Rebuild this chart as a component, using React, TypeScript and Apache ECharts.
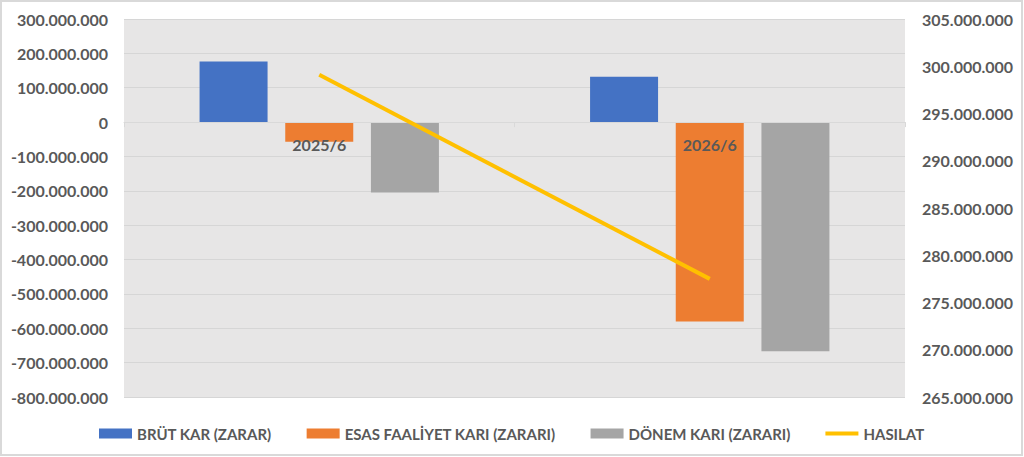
import { useEffect, useRef } from 'react';
import * as echarts from 'echarts';

// values
const periods = ['2025/6', '2026/6'];
const brutKar = [176000000, 132000000];
const esasFaaliyet = [-57000000, -580000000];
const donemKari = [-205000000, -667000000];
const hasilat = [299100000, 277500000];

const LABEL = '#595959';
const FONT = 'Lato, "Liberation Sans", sans-serif';

const LEFT_MIN = -800000000;
const LEFT_MAX = 300000000;
const GRID_TOP = 19;
const GRID_BOTTOM = 60;
const HEIGHT = 457;

const dots = (v: number) => String(v).replace(/\B(?=(\d{3})+(?!\d))/g, '.');

export default function App() {
  const ref = useRef<HTMLDivElement>(null);

  useEffect(() => {
    const dom = ref.current!;
    const chart = echarts.init(dom, undefined, { renderer: 'svg' });

    // category axis sits on the zero line of the left axis
    const plotH = HEIGHT - GRID_TOP - GRID_BOTTOM;
    const zeroOffset = -(plotH * -LEFT_MIN) / (LEFT_MAX - LEFT_MIN);

    const bar = (name: string, data: number[], color: string) => ({
      type: 'bar',
      name,
      data,
      barWidth: 68,
      barGap: '26%',
      itemStyle: { color },
    });

    chart.setOption({
      animation: false,
      backgroundColor: '#fff',
      textStyle: { fontFamily: FONT },
      grid: {
        left: 124,
        right: 119,
        top: GRID_TOP,
        bottom: GRID_BOTTOM,
        show: true,
        backgroundColor: '#E7E6E6',
        borderWidth: 0,
      },
      graphic: [
        {
          type: 'rect',
          shape: { x: 1, y: 1, width: 1021, height: 454 },
          style: { fill: 'none', stroke: '#D9D9D9', lineWidth: 2 },
          silent: true,
        },
      ],
      legend: {
        left: 99,
        top: 426,
        padding: 0,
        itemWidth: 33,
        itemHeight: 10,
        itemGap: 35,
        textStyle: { color: LABEL, fontSize: 15, fontWeight: 'bold', fontFamily: FONT },
        data: [
          { name: 'BRÜT KAR (ZARAR)', icon: 'rect' },
          { name: 'ESAS FAALİYET KARI (ZARARI)', icon: 'rect' },
          { name: 'DÖNEM KARI (ZARARI)', icon: 'rect' },
          { name: 'HASILAT', icon: 'path://M0,0 L33,0 L33,4 L0,4 Z' },
        ],
      },
      xAxis: {
        type: 'category',
        data: periods,
        z: 5,
        offset: zeroOffset,
        axisLine: { onZero: false, lineStyle: { color: '#D9D9D9', width: 1 } },
        axisTick: { show: true, length: 5, lineStyle: { color: '#D9D9D9' } },
        axisLabel: { color: LABEL, fontSize: 16, fontWeight: 'bold', margin: 14, fontFamily: FONT },
      },
      yAxis: [
        {
          type: 'value',
          min: LEFT_MIN,
          max: LEFT_MAX,
          interval: 100000000,
          axisLine: { show: false },
          axisTick: { show: false },
          splitLine: { lineStyle: { color: '#D6D6D6', width: 1 } },
          axisLabel: {
            color: LABEL,
            fontSize: 16,
            fontWeight: 'bold',
            margin: 16,
            fontFamily: FONT,
            formatter: dots,
          },
        },
        {
          type: 'value',
          min: 265000000,
          max: 305000000,
          interval: 5000000,
          axisLine: { show: false },
          axisTick: { show: false },
          splitLine: { show: false },
          axisLabel: {
            color: LABEL,
            fontSize: 16,
            fontWeight: 'bold',
            margin: 17,
            fontFamily: FONT,
            formatter: dots,
          },
        },
      ],
      series: [
        bar('BRÜT KAR (ZARAR)', brutKar, '#4472C4'),
        bar('ESAS FAALİYET KARI (ZARARI)', esasFaaliyet, '#ED7D31'),
        bar('DÖNEM KARI (ZARARI)', donemKari, '#A5A5A5'),
        {
          type: 'line',
          name: 'HASILAT',
          yAxisIndex: 1,
          data: hasilat,
          symbol: 'none',
          z: 6,
          itemStyle: { color: '#FFC000' },
          lineStyle: { color: '#FFC000', width: 4 },
        },
      ],
    } as echarts.EChartsOption);

    return () => {
      chart.dispose();
    };
  }, []);

  return (
    <div
      ref={ref}
      style={{ position: 'fixed', left: 0, top: 0, width: 1024, height: 457 }}
    />
  );
}
